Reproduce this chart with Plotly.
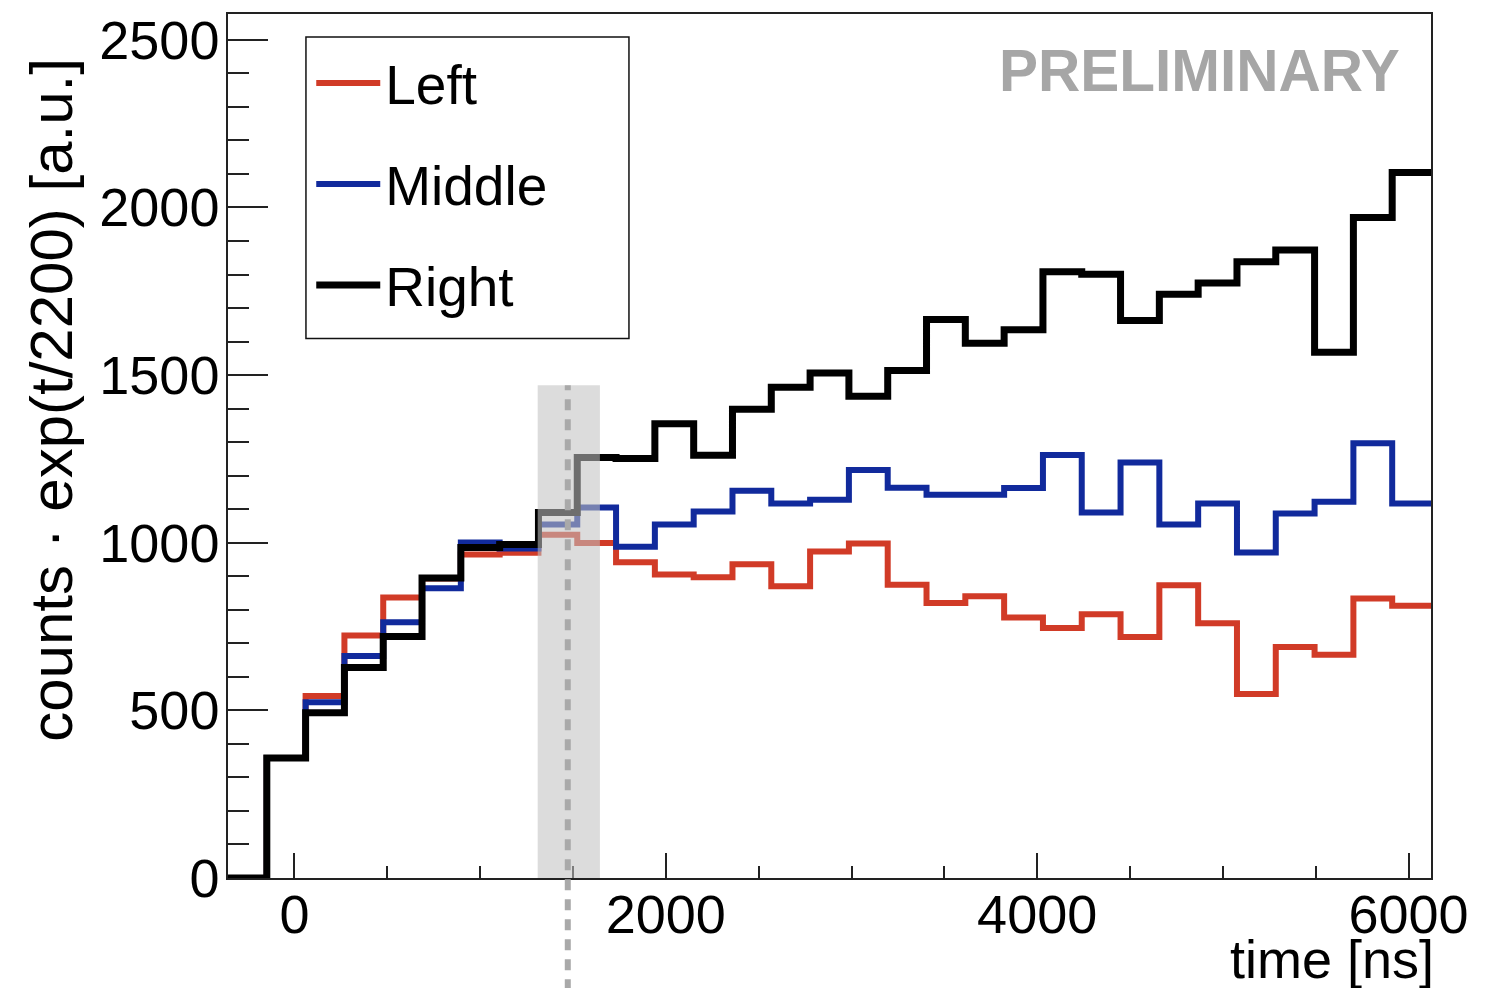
import numpy as np
import plotly.graph_objects as go

# Histogram binning (ns): 31 equal bins
bin_low = -358.0
bin_width = 209.0
n_bins = 31

# Bin contents, counts * exp(t/2200) [a.u.]
left = [0, 358, 543, 723, 837, 893, 965, 970, 1024, 999, 942, 905, 897, 936, 870,
        974, 998, 875, 820, 840, 777, 746, 787, 719, 873, 760, 549, 689, 666, 834, 812]
middle = [0, 358, 524, 662, 763, 864, 1001, 983, 1054, 1105, 988, 1054, 1093, 1155, 1117,
          1128, 1217, 1164, 1143, 1143, 1163, 1262, 1090, 1239, 1054, 1117, 971, 1087, 1122, 1297, 1117]
right = [0, 358, 493, 628, 720, 895, 986, 995, 1090, 1254, 1251, 1355, 1261, 1398, 1464,
         1506, 1437, 1514, 1666, 1595, 1635, 1808, 1801, 1663, 1741, 1775, 1838, 1873, 1568, 1970, 2104]

series_names = ["Left", "Middle", "Right"]
series_colors = ["#d13b27", "#112a9c", "#000000"]
series_widths = [6, 6, 7]

# Marked time window and its centre (ns)
window_lo, window_hi = 1310, 1645
window_centre = 1472
window_top = 1470

x_ticks = [0, 2000, 4000, 6000]
y_ticks = [0, 500, 1000, 1500, 2000, 2500]

edges = bin_low + bin_width * np.arange(n_bins + 1)
x_range = [edges[0], edges[-1]]
y_range = [0, 2577]

fig = go.Figure()
for name, vals, col, w in zip(series_names, [left, middle, right], series_colors, series_widths):
    fig.add_trace(go.Scatter(
        x=edges, y=list(vals) + [vals[-1]],
        mode="lines", line=dict(color=col, width=w, shape="hv"),
        name=name, legendgroup=name, cliponaxis=False,
    ))

font = "Liberation Sans, Arial, Helvetica, sans-serif"

# translucent window band drawn over the histograms
fig.add_shape(type="rect", xref="x", yref="y", x0=window_lo, x1=window_hi, y0=0, y1=window_top,
              fillcolor="rgba(193,193,193,0.57)", line=dict(width=0), layer="above")
cx = (window_centre - x_range[0]) / (x_range[1] - x_range[0])
fig.add_shape(type="line", xref="paper", yref="paper", x0=cx, x1=cx, y0=-0.13,
              y1=window_top / y_range[1],
              line=dict(color="#a9a9a9", width=6, dash="11px,9px"), layer="above")

# legend frame
fig.add_shape(type="rect", xref="paper", yref="paper", x0=0.0648, x1=0.3333, y0=0.6244, y1=0.9735,
              line=dict(color="#111111", width=1.5), fillcolor="rgba(0,0,0,0)", layer="above")

fig.add_annotation(text="PRELIMINARY", xref="paper", yref="paper", x=0.976, y=0.9344,
                   xanchor="right", yanchor="middle", showarrow=False,
                   font=dict(family=font, size=58.5, color="#a6a6a6", weight="bold"))
fig.add_annotation(text="counts · exp(t/2200) [a.u.]", xref="paper", yref="paper",
                   x=-0.1463, y=0.9516, xanchor="center", yanchor="top", textangle=-90,
                   showarrow=False, font=dict(family=font, size=60, color="black"))
fig.add_annotation(text="time [ns]", xref="paper", yref="paper", x=1.004, y=-0.094,
                   xanchor="right", yanchor="middle", showarrow=False,
                   font=dict(family=font, size=54, color="black"))

fig.update_layout(
    width=1498, height=988,
    margin=dict(l=228, r=67, t=10, b=110),
    paper_bgcolor="white", plot_bgcolor="white",
    font=dict(family=font, color="black"),
    showlegend=True,
    legend=dict(x=0.0692, y=0.969, xanchor="left", yanchor="top",
                bgcolor="rgba(0,0,0,0)", borderwidth=0,
                font=dict(family=font, size=55, color="black"),
                tracegroupgap=26.5, itemwidth=64),
    xaxis=dict(range=x_range, tickvals=x_ticks, ticks="inside", ticklen=25, tickwidth=1.5,
               tickcolor="#222", showgrid=False, zeroline=False, showline=True, mirror=True,
               linecolor="#222", linewidth=1.5, ticklabelstandoff=-12,
               tickfont=dict(family=font, size=54, color="black"),
               minor=dict(dtick=500, tick0=0, ticks="inside", ticklen=12, tickwidth=1.5,
                          tickcolor="#222", showgrid=False)),
    yaxis=dict(range=y_range, tickvals=y_ticks, ticks="inside", ticklen=40, tickwidth=1.5,
               tickcolor="#222", showgrid=False, zeroline=False, showline=True, mirror=True,
               linecolor="#222", linewidth=1.5, ticklabelstandoff=-4,
               tickfont=dict(family=font, size=54, color="black"),
               minor=dict(dtick=100, tick0=0, ticks="inside", ticklen=21, tickwidth=1.5,
                          tickcolor="#222", showgrid=False)),
)

fig.write_html("out.html")
